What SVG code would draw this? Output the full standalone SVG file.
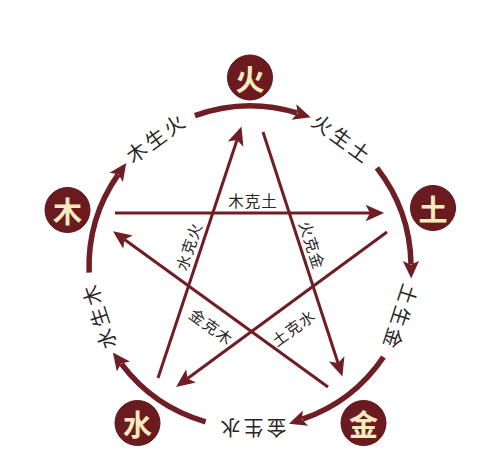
<svg xmlns="http://www.w3.org/2000/svg" width="500" height="471" viewBox="0 0 500 471">
  <style>
    .arc{fill:none;stroke:#6e1e24;stroke-width:5.5}
    .ke{fill:none;stroke:#6e1e24;stroke-width:3}
    .node circle{fill:#6b1b20;stroke:#5a1418;stroke-width:1}
    .node text{font-family:"Noto Sans CJK SC","Noto Sans CJK JP",sans-serif;font-size:29px;font-weight:bold;fill:#f7ebbf;text-anchor:middle;dominant-baseline:central}
    .lbl{font-family:"Noto Sans CJK SC","Noto Sans CJK JP",sans-serif;fill:#2a2626;text-anchor:middle;dominant-baseline:central}
    .sheng{font-size:20px;letter-spacing:3px}
    .kel{font-size:15.5px;letter-spacing:1px}
  </style>
  <defs>
    <marker id="ah" markerUnits="userSpaceOnUse" markerWidth="24" markerHeight="24" viewBox="-2 -10 22 20" refX="3" refY="0" orient="auto">
      <path d="M0,-7.5 L16,0 L0,7.5 L3.5,0 Z" fill="#6e1e24"/>
    </marker>
    <marker id="kh" markerUnits="userSpaceOnUse" markerWidth="24" markerHeight="24" viewBox="-2 -10 22 20" refX="4" refY="0" orient="auto">
      <path d="M0,-7.5 L17,0 L0,7.5 L4,0 Z" fill="#6e1e24"/>
    </marker>
  </defs>
  <rect width="500" height="471" fill="#ffffff"/>

  <g id="connectors">
    <!-- sheng cycle arcs -->
    <path class="arc" d="M194.9,115.7 A161,161 0 0 1 297.1,113.0" marker-end="url(#ah)"/>
    <path class="arc" d="M376.9,167.9 A161,161 0 0 1 411.0,264.2" marker-end="url(#ah)"/>
    <path class="arc" d="M383.5,357.0 A161,161 0 0 1 302.4,419.2" marker-end="url(#ah)"/>
    <path class="arc" d="M205.6,421.8 A161,161 0 0 1 121.4,363.9" marker-end="url(#ah)"/>
    <path class="arc" d="M89.1,272.6 A161,161 0 0 1 118.1,174.7" marker-end="url(#ah)"/>
    <!-- ke cycle lines -->
    <line class="ke" x1="115" y1="213" x2="370" y2="213" marker-end="url(#kh)"/>
    <line class="ke" x1="387" y1="232" x2="187.5" y2="378.5" marker-end="url(#kh)"/>
    <line class="ke" x1="158" y1="378" x2="237" y2="140" marker-end="url(#kh)"/>
    <line class="ke" x1="263" y1="132" x2="338" y2="363" marker-end="url(#kh)"/>
    <line class="ke" x1="328" y1="387" x2="124.5" y2="239.5" marker-end="url(#kh)"/>
  </g>

  <g id="labels">
    <text class="lbl sheng" transform="translate(156,137) rotate(-36)">木生火</text>
    <text class="lbl sheng" transform="translate(343,138) rotate(36)">火生土</text>
    <text class="lbl sheng" transform="translate(401,318) rotate(108)">土生金</text>
    <text class="lbl sheng" transform="translate(252,428) rotate(180)">金生水</text>
    <text class="lbl sheng" transform="translate(98,316) rotate(-108)">水生木</text>
    <text class="lbl kel" transform="translate(253,200)">木克土</text>
    <text class="lbl kel" transform="translate(188,246) rotate(-71.6)">水克火</text>
    <text class="lbl kel" transform="translate(313,245) rotate(72)">火克金</text>
    <text class="lbl kel" transform="translate(212,326) rotate(36)">金克木</text>
    <text class="lbl kel" transform="translate(293,327) rotate(-36)">土克水</text>
  </g>

  <g id="node-fire" class="node"><circle cx="250" cy="77.5" r="22.5"/><text x="250" y="77.5">火</text></g>
  <g id="node-earth" class="node"><circle cx="433" cy="208" r="22.5"/><text x="433" y="208">土</text></g>
  <g id="node-metal" class="node"><circle cx="363.5" cy="423" r="22.5"/><text x="363.5" y="423">金</text></g>
  <g id="node-water" class="node"><circle cx="137.5" cy="423" r="22.5"/><text x="137.5" y="423">水</text></g>
  <g id="node-wood" class="node"><circle cx="67.5" cy="210" r="22.5"/><text x="67.5" y="210">木</text></g>
</svg>
